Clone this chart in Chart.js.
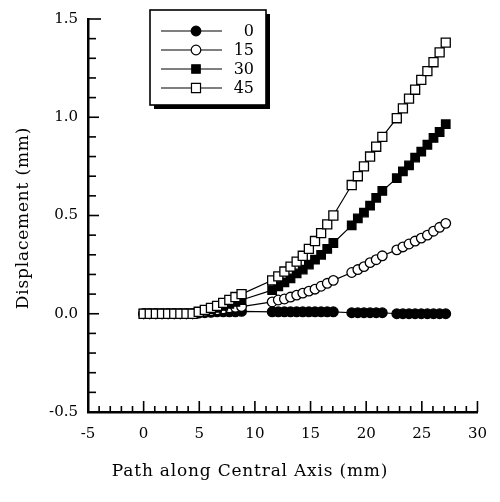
<!DOCTYPE html>
<html>
<head>
<meta charset="utf-8">
<script src="https://cdn.jsdelivr.net/npm/chart.js"></script>
<style>
  html, body { margin: 0; padding: 0; background: #fff; }
  #wrap { width: 500px; height: 502px; }
</style>
</head>
<body>
<div id="wrap"><canvas id="chart" width="500" height="502"></canvas></div>
<script>
// path positions (mm) shared by all four series
const pathMm = [
    0, 0.55, 1.1, 1.65, 2.2, 2.75, 3.3, 3.85, 4.4, 4.95, 5.5, 6.05, 6.6, 7.15, 7.7, 8.25, 8.8,
    11.55, 12.1, 12.65, 13.2, 13.75, 14.3, 14.85, 15.4, 15.95, 16.5, 17.05,
    18.7, 19.25, 19.8, 20.35, 20.9, 21.45,
    22.75, 23.3, 23.85, 24.4, 24.95, 25.5, 26.05, 26.6, 27.15
];

const disp0 = [
    0, 0, 0, 0, 0, 0, 0, 0, 0, 0.003, 0.005, 0.007, 0.01, 0.01, 0.01, 0.01, 0.012,
    0.01, 0.01, 0.01, 0.01, 0.01, 0.01, 0.01, 0.01, 0.01, 0.01, 0.01,
    0.005, 0.005, 0.005, 0.005, 0.005, 0.005,
    0, 0, 0, 0, 0, 0, 0, 0, 0
];
const disp15 = [
    0, 0, 0, 0, 0, 0, 0, 0, 0, 0.005, 0.01, 0.015, 0.02, 0.025, 0.03, 0.033, 0.036,
    0.06, 0.07, 0.075, 0.085, 0.095, 0.105, 0.115, 0.125, 0.14, 0.155, 0.17,
    0.21, 0.225, 0.24, 0.26, 0.275, 0.295,
    0.325, 0.34, 0.355, 0.37, 0.385, 0.40, 0.42, 0.44, 0.46
];
const disp30 = [
    0, 0, 0, 0, 0, 0, 0, 0, 0, 0.008, 0.015, 0.022, 0.03, 0.04, 0.05, 0.06, 0.07,
    0.12, 0.14, 0.16, 0.18, 0.205, 0.225, 0.25, 0.275, 0.30, 0.33, 0.36,
    0.45, 0.485, 0.515, 0.55, 0.59, 0.625,
    0.69, 0.725, 0.755, 0.795, 0.825, 0.86, 0.895, 0.925, 0.965
];
const disp45 = [
    0, 0, 0, 0, 0, 0, 0, 0, 0, 0.01, 0.02, 0.03, 0.04, 0.055, 0.07, 0.085, 0.10,
    0.17, 0.19, 0.215, 0.24, 0.265, 0.295, 0.33, 0.37, 0.41, 0.455, 0.50,
    0.655, 0.70, 0.75, 0.80, 0.85, 0.90,
    0.995, 1.045, 1.095, 1.14, 1.19, 1.235, 1.28, 1.33, 1.38
];

const seriesNames = ['0', '15', '30', '45'];
const xTicks = [-5, 0, 5, 10, 15, 20, 25, 30];
const yTicks = [-0.5, 0.0, 0.5, 1.0, 1.5];

const serif = "'DejaVu Serif', 'Liberation Serif', serif";

function pts(ys) {
    return pathMm.map((x, i) => ({ x, y: ys[i] }));
}

const styles = [
    { pointStyle: 'circle', radius: 4.8, fill: '#000' },
    { pointStyle: 'circle', radius: 4.8, fill: '#fff' },
    { pointStyle: 'rect', radius: 6, fill: '#000' },
    { pointStyle: 'rect', radius: 6.4, fill: '#fff' }
];

const datasets = [disp0, disp15, disp30, disp45].map((d, i) => ({
    label: seriesNames[i],
    data: pts(d),
    borderColor: '#000',
    borderWidth: 1.2,
    pointStyle: styles[i].pointStyle,
    pointRadius: styles[i].radius,
    pointBackgroundColor: styles[i].fill,
    pointBorderColor: '#000',
    pointBorderWidth: 1.3,
    order: 4 - i, // 45 ends up on top
    tension: 0
}));

// inward tick marks, minor and major
const tickMarks = {
    id: 'tickMarks',
    afterDraw(chart) {
        const ctx = chart.ctx;
        const xs = chart.scales.x, ys = chart.scales.y;
        const area = chart.chartArea;
        ctx.save();
        ctx.strokeStyle = '#000';
        ctx.lineWidth = 1.6;
        for (let v = -4; v <= 30; v++) {
            const px = xs.getPixelForValue(v);
            const len = v % 5 === 0 ? 11 : 6;
            ctx.beginPath();
            ctx.moveTo(px, area.bottom);
            ctx.lineTo(px, area.bottom - len);
            ctx.stroke();
        }
        for (let k = -4; k <= 15; k++) {
            const py = ys.getPixelForValue(k / 10);
            const len = k % 5 === 0 ? (k === 15 ? 13 : 11) : 8;
            ctx.beginPath();
            ctx.moveTo(area.left, py);
            ctx.lineTo(area.left + len, py);
            ctx.stroke();
        }
        ctx.restore();
    }
};

// axis titles, spaced like the scan
const axisTitles = {
    id: 'axisTitles',
    afterDraw(chart) {
        const ctx = chart.ctx;
        ctx.save();
        ctx.fillStyle = '#000';
        ctx.font = '17px ' + serif;
        ctx.letterSpacing = '0.8px';
        ctx.textAlign = 'center';
        ctx.textBaseline = 'middle';
        ctx.fillText('Path along Central Axis (mm)', 250, 472);
        ctx.translate(24, 218);
        ctx.rotate(-Math.PI / 2);
        ctx.fillText('Displacement (mm)', 0, 0);
        ctx.restore();
    }
};

// boxed legend with a drop shadow, line through marker
const boxLegend = {
    id: 'boxLegend',
    afterDraw(chart) {
        const ctx = chart.ctx;
        const bx = 150, by = 10, bw = 116, bh = 95;
        ctx.save();
        ctx.fillStyle = '#000';
        ctx.fillRect(bx + 4, by + 4, bw, bh);
        ctx.fillStyle = '#fff';
        ctx.fillRect(bx, by, bw, bh);
        ctx.strokeStyle = '#000';
        ctx.lineWidth = 1.6;
        ctx.strokeRect(bx, by, bw, bh);

        ctx.font = '16px ' + serif;
        ctx.textAlign = 'right';
        ctx.textBaseline = 'middle';
        chart.data.datasets.forEach((ds, i) => {
            const y = by + 21 + i * 19;
            ctx.lineWidth = 1.2;
            ctx.beginPath();
            ctx.moveTo(bx + 11, y);
            ctx.lineTo(bx + 72, y);
            ctx.stroke();
            const r = ds.pointRadius;
            ctx.fillStyle = ds.pointBackgroundColor;
            ctx.beginPath();
            if (ds.pointStyle === 'circle') {
                ctx.arc(bx + 46, y, r, 0, Math.PI * 2);
            } else {
                const h = r * Math.SQRT1_2;
                ctx.rect(bx + 46 - h, y - h, 2 * h, 2 * h);
            }
            ctx.fill();
            ctx.stroke();
            ctx.fillStyle = '#000';
            ctx.fillText(ds.label, bx + 104, y + 1);
        });
        ctx.restore();
    }
};

new Chart(document.getElementById('chart'), {
    type: 'line',
    data: { datasets },
    options: {
        responsive: false,
        animation: false,
        devicePixelRatio: 1,
        layout: { padding: { top: 12, right: 10, left: 0, bottom: 0 } },
        plugins: { legend: { display: false }, tooltip: { enabled: false } },
        scales: {
            x: {
                type: 'linear',
                min: -5,
                max: 30,
                afterFit(scale) { scale.height = 90; },
                afterBuildTicks(scale) { scale.ticks = xTicks.map(v => ({ value: v })); },
                ticks: {
                    color: '#000',
                    padding: 13,
                    font: { family: serif, size: 15 },
                    maxRotation: 0,
                    callback: v => String(v)
                },
                grid: { display: false, drawTicks: false },
                border: { display: true, color: '#000', width: 2.5 }
            },
            y: {
                type: 'linear',
                min: -0.5,
                max: 1.5,
                afterFit(scale) { scale.width = 88; },
                afterBuildTicks(scale) { scale.ticks = yTicks.map(v => ({ value: v })); },
                ticks: {
                    color: '#000',
                    padding: 10,
                    font: { family: serif, size: 15 },
                    callback: v => v.toFixed(1)
                },
                grid: { display: false, drawTicks: false },
                border: { display: true, color: '#000', width: 2.5 }
            }
        }
    },
    plugins: [tickMarks, axisTitles, boxLegend]
});
</script>
</body>
</html>
